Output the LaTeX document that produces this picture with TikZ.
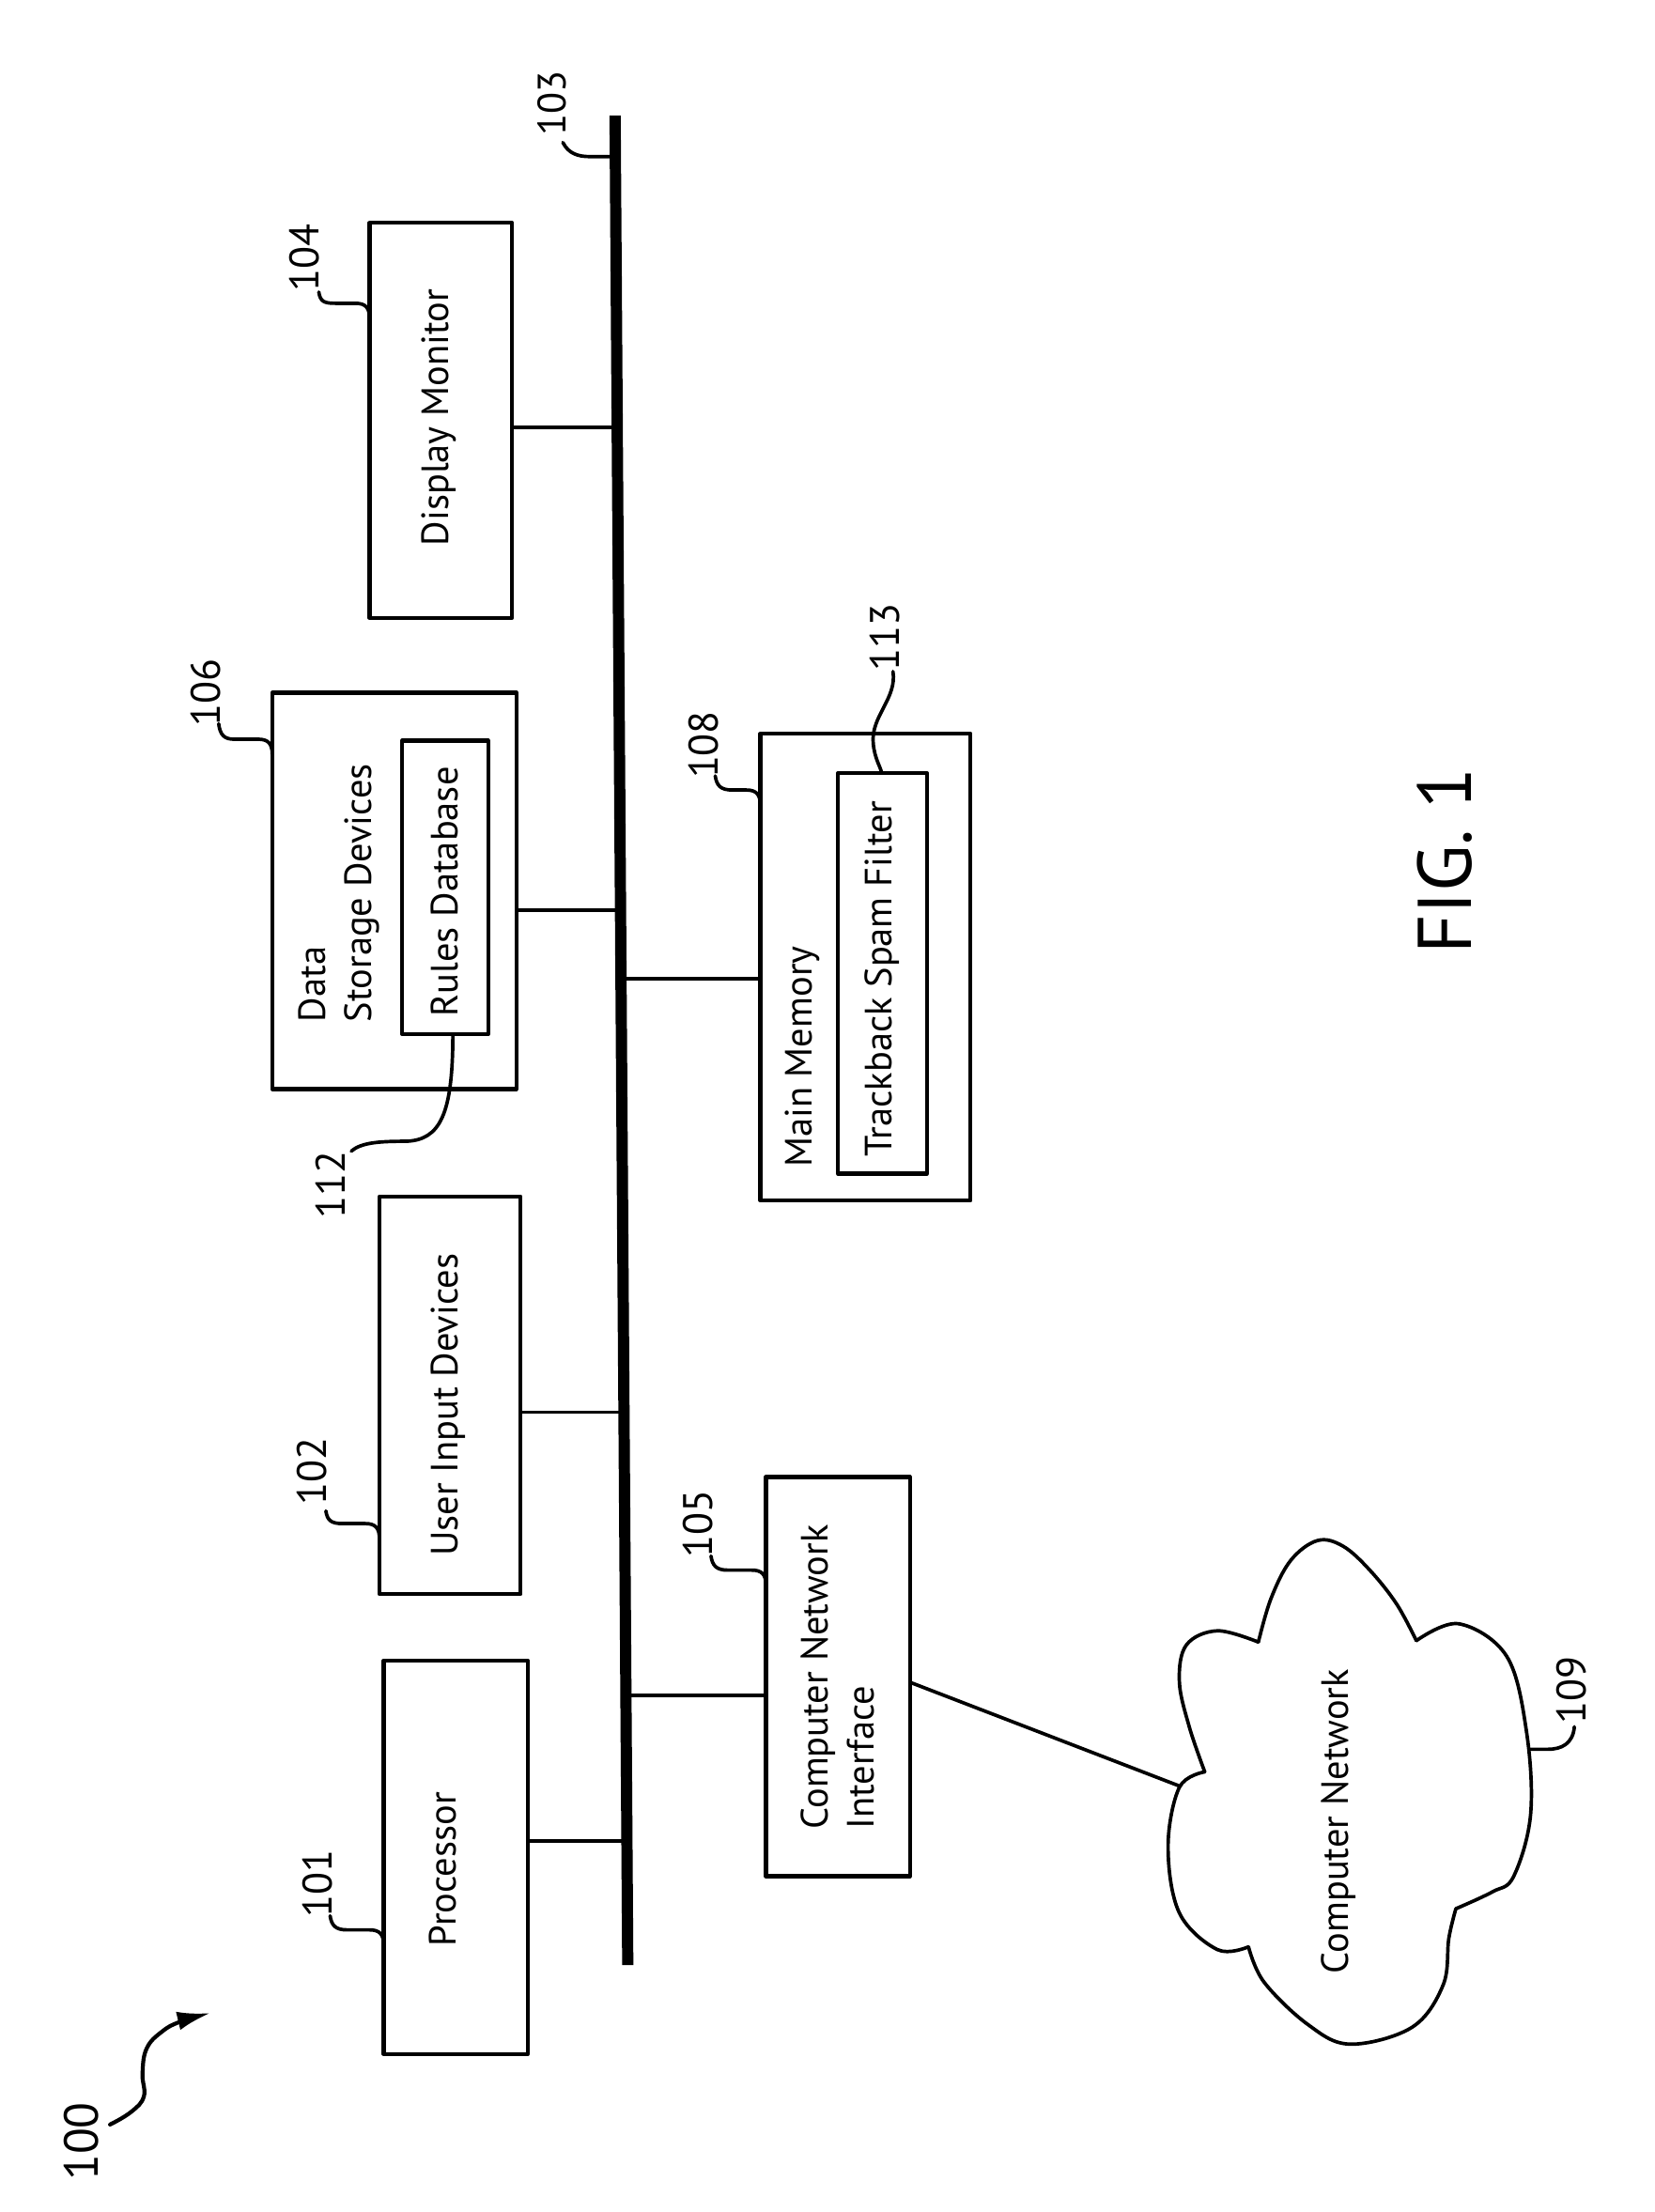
\documentclass[tikz,border=0pt]{standalone}
\usepackage{fontspec}
\setmainfont{PT Sans}
\usetikzlibrary{arrows.meta,calc,fit}
\begin{document}
\begin{tikzpicture}[x=0.015cm,y=-0.015cm, line cap=round, line join=round,
  box/.style={draw, line width=1.2pt, inner sep=0pt},
  lbl/.style={rotate=90, inner sep=0pt, font=\fontsize{12.5}{14}\selectfont},
  txt/.style={rotate=90, inner sep=0pt, font=\fontsize{11.5}{14}\selectfont},
  wire/.style={line width=1.05pt},
  lead/.style={line width=1.05pt},
  busline/.style={line width=3.4pt, line cap=butt}]
\useasboundingbox[fill=white] (0,0) rectangle (1173,1568);

% bus 103
\coordinate (bt) at (436,82);
\coordinate (bb) at (445,1393);
\draw[busline] (bt) -- (bb);
\coordinate (t1) at ($(bt)!0.1686!(bb)$);
\coordinate (t2) at ($(bt)!0.4294!(bb)$);
\coordinate (t3) at ($(bt)!0.7010!(bb)$);
\coordinate (t4) at ($(bt)!0.9329!(bb)$);
\coordinate (t5) at ($(bt)!0.4668!(bb)$);
\coordinate (t6) at ($(bt)!0.8543!(bb)$);
\coordinate (t0) at ($(bt)!0.0221!(bb)$);

% boxes
\node[box, fit={(262,158) (363,438)}] (dm) {};
\node[box, fit={(193,491) (366,772)}] (dsd) {};
\node[box, fit={(285,525) (346,733)}] (rdb) {};
\node[box, fit={(269,848) (369,1130)}] (uid) {};
\node[box, fit={(272,1177) (374,1456)}] (proc) {};
\node[box, fit={(539,520) (688,851)}] (mm) {};
\node[box, fit={(594,548) (657,832)}] (tsf) {};
\node[box, fit={(543,1047) (645,1330)}] (cni) {};

% texts
\node[txt] (dmt) at (311,296) {Display Monitor};
\node[txt, align=left, anchor=north west] (dsdt) at (211,725) {Data\\Storage Devices};
\node[txt] (rdbt) at (315,632) {Rules Database};
\node[txt] (uidt) at (317.5,996) {User Input Devices};
\node[txt] (proct) at (314,1325) {Processor};
\node[txt, anchor=north west] (mmt) at (556,828) {Main Memory};
\node[txt] (tsft) at (625,694) {Trackback Spam Filter};
\node[txt, align=left, anchor=north west] (cnit) at (567,1297) {Computer Network\\Interface};

% connectors to bus
\draw[wire] (dm.east |- t1) -- (t1);
\draw[wire] (dsd.east |- t2) -- (t2);
\draw[wire] (uid.east |- t3) -- (t3);
\draw[wire] (proc.east |- t4) -- (t4);
\draw[wire] (t5) -- (mm.west |- t5);
\draw[wire] (t6) -- (cni.west |- t6);

% cloud 109
\coordinate (cin) at (836,1266);
\draw[wire] plot[smooth, tension=0.6] coordinates {(892,1164) (901,1133) (915,1106) (934,1092) (952,1096) (971,1113) (990,1137) (1004,1163)};
\draw[wire] plot[smooth, tension=0.6] coordinates {(1004,1163) (1034,1151) (1068,1174) (1082,1227) (1085,1286) (1073,1330) (1058,1341) (1032,1353)};
\draw[wire] plot[smooth, tension=0.6] coordinates {(1032,1353) (1027,1374) (1023,1407) (1001,1437) (957,1449) (927,1435) (896,1405) (885,1380)};
\draw[wire] plot[smooth, tension=0.6] coordinates {(885,1380) (863,1382) (836,1356) (828,1309) (836,1267) (854,1256)};
\draw[wire] plot[smooth, tension=0.6] coordinates {(854,1256) (843,1224) (836,1192) (841,1166) (863,1156) (892,1164)};
\node[txt] (cnt) at (949,1291) {Computer Network};
\draw[wire] ($(cni.east)+(0,4.5)$) -- (cin);

% labels
\node[lbl] (l104) at (215.5,183) {104};
\node[lbl] (l106) at (146,491) {106};
\node[lbl] (l112) at (234,840) {112};
\node[lbl] (l102) at (221,1043) {102};
\node[lbl] (l101) at (225,1335) {101};
\node[lbl] (l108) at (499,528) {108};
\node[lbl] (l113) at (627,452) {113};
\node[lbl] (l105) at (495,1080) {105};
\node[lbl] (l109) at (1114,1198) {109};
\node[lbl, font=\fontsize{12}{14}\selectfont] (l103) at (391,73) {103};
\node[lbl, font=\fontsize{14.5}{16}\selectfont] (l100) at (58,1518) {100};
\node[rotate=90, inner sep=0pt, font=\fontsize{23}{25}\selectfont] (fig) at (1024,610) {FIG. 1};

% leaders
\draw[lead] (226,207) .. controls (227,214) and (230,215) .. (238,215) -- (252,215) .. controls (259,215) and (262,218) .. (262,226);
\draw[lead] (155,513) .. controls (156,521) and (159,524) .. (166,524) -- (183,524) .. controls (190,524) and (193,527) .. (193,535);
\draw[lead] (234,1358) .. controls (235,1365) and (238,1368) .. (246,1368) -- (262,1368) .. controls (269,1368) and (272,1371) .. (272,1379);
\draw[lead] (231,1071) .. controls (232,1078) and (235,1080) .. (243,1080) -- (259,1080) .. controls (266,1080) and (269,1083) .. (269,1091);
\draw[lead] (507,550) .. controls (508,557) and (511,560) .. (519,560) -- (529,560) .. controls (536,560) and (539,563) .. (539,571);
\draw[lead] (504,1103) .. controls (505,1110) and (508,1113) .. (516,1113) -- (533,1113) .. controls (540,1113) and (543,1116) .. (543,1124);
\draw[lead] (399,101) .. controls (403,109) and (410,111) .. (418,111) -- (t0);
\draw[lead] (633,476) .. controls (636,495) and (617,508) .. (619,527) .. controls (620,538) and (624,543) .. (625,548);
\draw[lead] (321,733) .. controls (321,790) and (312,808) .. (288,809) .. controls (268,809) and (256,810) .. (249,816);
\draw[lead] (1116,1224) .. controls (1115,1236) and (1107,1240) .. (1097,1240) -- (1085,1240);

% arrow 100
\draw[line width=1.2pt, -{Latex[length=0.35cm,width=0.2cm]}] plot[smooth, tension=0.7] coordinates {(78,1506) (93,1497) (102,1486) (101,1470) (104,1452) (115,1440) (128,1433) (149,1427)};
\end{tikzpicture}
\end{document}
